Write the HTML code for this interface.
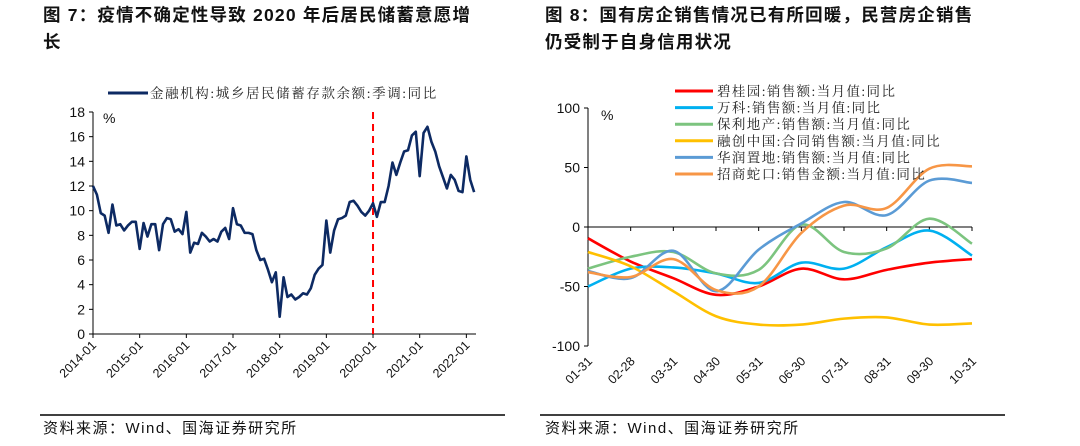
<!DOCTYPE html>
<html><head><meta charset="utf-8">
<style>
body{margin:0;width:1080px;height:446px;background:#fff;overflow:hidden;font-family:"Liberation Sans","Noto Sans CJK SC",sans-serif;}
.title{position:absolute;font-weight:bold;font-size:17.5px;color:#111;line-height:27px;letter-spacing:1.2px;white-space:nowrap;}
svg{position:absolute;left:0;top:0}
</style></head><body>
<div class="title" style="left:43px;top:2px;">图 7：疫情不确定性导致 2020 年后居民储蓄意愿增<br>长</div>
<div class="title" style="left:545px;top:2px;">图 8：国有房企销售情况已有所回暖，民营房企销售<br>仍受制于自身信用状况</div>
<svg width="1080" height="446" id="s" font-family="Liberation Sans, Noto Sans CJK SC, sans-serif">
<line x1="40" y1="415" x2="505" y2="415" stroke="#000" stroke-width="1.5"/>
<line x1="540" y1="415" x2="1005" y2="415" stroke="#000" stroke-width="1.5"/>
<text x="43" y="433" font-size="15" letter-spacing="1.5" fill="#111">资料来源：Wind、国海证券研究所</text>
<text x="545" y="433" font-size="15" letter-spacing="1.5" fill="#111">资料来源：Wind、国海证券研究所</text>
</svg>
<script>
const NS="http://www.w3.org/2000/svg";
const svg=document.getElementById('s');
function el(t,a,p){const e=document.createElementNS(NS,t);for(const k in a)e.setAttribute(k,a[k]);(p||svg).appendChild(e);return e;}

// LEFT CHART DATA
const leftYTicks=[0,2,4,6,8,10,12,14,16,18];
const leftXLabels=["2014-01","2015-01","2016-01","2017-01","2018-01","2019-01","2020-01","2021-01","2022-01"];
const savings=[12,11.3,9.8,9.6,8.2,10.5,8.8,8.9,8.4,8.8,9.1,9.1,
6.9,9.0,7.9,8.9,8.9,6.8,8.9,9.4,9.3,8.3,8.5,8.1,
9.9,6.6,7.4,7.3,8.2,7.9,7.5,7.7,7.5,8.3,8.6,7.7,
10.2,8.9,8.8,8.2,8.2,8.1,6.8,6.0,6.1,5.2,4.2,5.0,
1.4,4.6,3.0,3.2,2.8,3.0,3.3,3.2,3.7,4.8,5.3,5.6,
9.2,6.6,8.4,9.3,9.4,9.6,10.7,10.8,10.4,9.9,9.6,10.0,
10.6,9.5,10.7,10.7,12.0,13.9,12.9,13.9,14.8,14.9,16.1,16.4,
12.8,16.3,16.8,15.6,14.8,13.6,12.7,11.8,12.9,12.5,11.6,11.5,
14.4,12.5,11.5];
const markerMonth=72;

const lx=m=>93+m*(46.67/12), ly=v=>334-v*(222/18);
let g=el('g',{});


el('line',{x1:93,y1:112,x2:93,y2:334,stroke:'#000','stroke-width':1},g);
el('line',{x1:93,y1:334,x2:476,y2:334,stroke:'#000','stroke-width':1},g);
leftYTicks.forEach(v=>{
  el('line',{x1:89,y1:ly(v),x2:93,y2:ly(v),stroke:'#000'},g);
  const t=el('text',{x:85,y:ly(v)+5,'font-size':14,'text-anchor':'end',fill:'#111'},g);
  t.textContent=v;
  
  
});
leftXLabels.forEach((s,i)=>{
  const x=lx(i*12);
  el('line',{x1:x,y1:334,x2:x,y2:338,stroke:'#000'},g);
  const t=el('text',{x:x+4,y:346,'font-size':12.5,'text-anchor':'end',fill:'#111',transform:`rotate(-45 ${x+4} 346)`},g);
  t.textContent=s;
  
  
});
const pct=el('text',{x:103,y:123,'font-size':14,fill:'#111'},g);pct.textContent='%';


const dl=el('line',{x1:lx(markerMonth),y1:112,x2:lx(markerMonth),y2:334,stroke:'#f00','stroke-width':2,'stroke-dasharray':'7,5'},g);


const sp=el('polyline',{points:savings.map((v,i)=>lx(i)+','+ly(v)).join(' '),fill:'none',stroke:'#0d2a63','stroke-width':2.6,'stroke-linejoin':'round'},g);


el('line',{x1:108,y1:93,x2:148,y2:93,stroke:'#0d2a63','stroke-width':3},g);
const lt=el('text',{x:150,y:98,'font-size':13.5,'letter-spacing':1.6,fill:'#222','font-family':'Liberation Serif, Noto Serif CJK SC, serif'},g);lt.textContent='金融机构:城乡居民储蓄存款余额:季调:同比';



// RIGHT CHART DATA
const cats=["01-31","02-28","03-31","04-30","05-31","06-30","07-31","08-31","09-30","10-31"];
const rightYTicks=[-100,-50,0,50,100];
const seriesNames=["碧桂园:销售额:当月值:同比","万科:销售额:当月值:同比","保利地产:销售额:当月值:同比","融创中国:合同销售额:当月值:同比","华润置地:销售额:当月值:同比","招商蛇口:销售金额:当月值:同比"];
const seriesColors=["#ff0000","#00b0f0","#7cc47f","#ffc000","#5b9bd5","#f79646"];
const biguiyuan=[-9.5,-29,-43,-57,-50,-35,-44,-36,-30,-27];
const vanke=[-50,-35,-34,-39,-47,-30,-35,-17,-3,-24];
const poly=[-35,-25,-21,-39,-36,2,-21,-18,7,-14];
const sunac=[-21,-33,-54,-75,-82,-82,-77,-76,-82,-81];
const crland=[-37,-43,-20,-54,-19,3,21,10,39,37];
const cmsk=[-38,-42,-27,-53,-50,-5,18,16,49,51];
const allSeries=[biguiyuan,vanke,poly,sunac,crland,cmsk];

const rx=i=>588+i*(384/9), ry=v=>227-v*1.19;
let g2=el('g',{});


el('line',{x1:588,y1:108,x2:588,y2:346,stroke:'#000'},g2);
el('line',{x1:588,y1:227,x2:972,y2:227,stroke:'#000'},g2);
rightYTicks.forEach(v=>{
  el('line',{x1:584,y1:ry(v),x2:588,y2:ry(v),stroke:'#000'},g2);
  const t=el('text',{x:580,y:ry(v)+5,'font-size':14,'text-anchor':'end',fill:'#111'},g2);
  t.textContent=v;
  
  
});
cats.forEach((c,i)=>{
  const x=rx(i);
  if(i>0) el('line',{x1:x,y1:227,x2:x,y2:231,stroke:'#000'},g2);
  const t=el('text',{x:x+5,y:362,'font-size':12.5,'text-anchor':'end',fill:'#111',transform:`rotate(-45 ${x+5} 362)`},g2);
  t.textContent=c;
  
  
});
const p2=el('text',{x:601,y:120,'font-size':14,fill:'#111'},g2);p2.textContent='%';


function smooth(pts){
  let d=`M${pts[0][0]},${pts[0][1]}`;
  for(let i=0;i<pts.length-1;i++){
    const p0=pts[Math.max(0,i-1)],p1=pts[i],p2=pts[i+1],p3=pts[Math.min(pts.length-1,i+2)];
    const c1=[p1[0]+(p2[0]-p0[0])/6,p1[1]+(p2[1]-p0[1])/6];
    const c2=[p2[0]-(p3[0]-p1[0])/6,p2[1]-(p3[1]-p1[1])/6];
    d+=` C${c1[0]},${c1[1]} ${c2[0]},${c2[1]} ${p2[0]},${p2[1]}`;
  }
  return d;
}
allSeries.forEach((s,k)=>{
  const p=el('path',{d:smooth(s.map((v,i)=>[rx(i),ry(v)])),fill:'none',stroke:seriesColors[k],'stroke-width':2.6},g2);
  
  
});
seriesNames.forEach((n,k)=>{
  const y=91+k*16.6;
  el('line',{x1:675,y1:y,x2:713,y2:y,stroke:seriesColors[k],'stroke-width':3},g2);
  const t=el('text',{x:717,y:y+5,'font-size':13.5,'letter-spacing':1.4,fill:'#222','font-family':'Liberation Serif, Noto Serif CJK SC, serif'},g2);
  t.textContent=n;
  
  
});
</script>
</body></html>
